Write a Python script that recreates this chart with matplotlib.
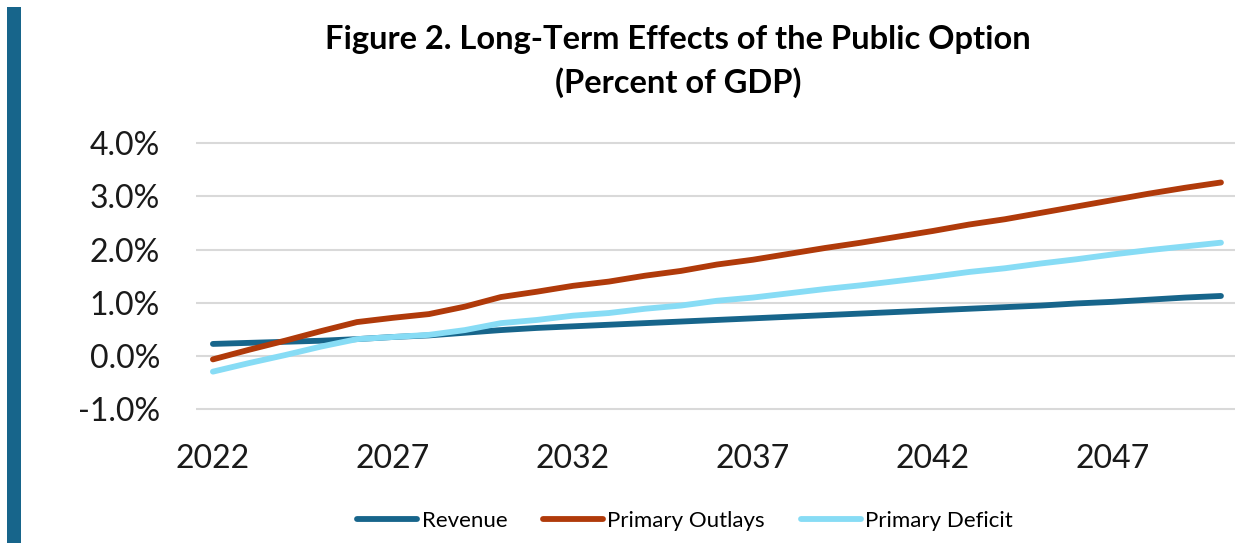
import numpy as np
import matplotlib.pyplot as plt
from matplotlib.patches import Rectangle

# Percent of GDP, 2022-2050
years = list(range(2022, 2051))
revenue = [0.23, 0.25, 0.27, 0.29, 0.32, 0.36, 0.39, 0.44, 0.49, 0.53,
           0.56, 0.59, 0.62, 0.65, 0.68, 0.71, 0.74, 0.77, 0.80, 0.83,
           0.86, 0.89, 0.92, 0.95, 0.99, 1.02, 1.06, 1.10, 1.13]
outlays = [-0.06, 0.12, 0.29, 0.47, 0.64, 0.72, 0.79, 0.93, 1.11, 1.21,
           1.32, 1.40, 1.51, 1.60, 1.72, 1.81, 1.92, 2.03, 2.13, 2.24,
           2.35, 2.47, 2.57, 2.69, 2.81, 2.93, 3.05, 3.16, 3.26]
deficit = [-0.29, -0.13, 0.02, 0.18, 0.32, 0.36, 0.40, 0.49, 0.62, 0.68,
           0.76, 0.81, 0.89, 0.95, 1.04, 1.10, 1.18, 1.26, 1.33, 1.41,
           1.49, 1.58, 1.65, 1.74, 1.82, 1.91, 1.99, 2.06, 2.13]
xticks = [2022, 2027, 2032, 2037, 2042, 2047]
yticks = [-1, 0, 1, 2, 3, 4]

plt.rcParams['font.family'] = ['Lato', 'DejaVu Sans']

W, H = 1235, 543
fig = plt.figure(figsize=(W / 100, H / 100), dpi=100)

# side accent bar
fig.patches.append(Rectangle((7 / W, 0), 14 / W, 1 - 7 / H, transform=fig.transFigure,
                             facecolor='#17658b', edgecolor='none'))

ax = fig.add_axes([196 / W, 1 - 414.8 / H, (1235 - 196) / W, (414.8 - 137.7) / H])

ax.plot(years, revenue, color='#17658b', lw=4.2, solid_capstyle='round', label='Revenue')
ax.plot(years, outlays, color='#b03a0a', lw=4.2, solid_capstyle='round', label='Primary Outlays')
ax.plot(years, deficit, color='#87dcf5', lw=4.2, solid_capstyle='round', label='Primary Deficit')

ax.set_xlim(2021.53, 2050.39)
ax.set_ylim(-1.1, 4.1)
ax.set_yticks(yticks)
ax.set_yticklabels([f'{v:.1f}%' for v in yticks])
ax.set_xticks(xticks)
ax.grid(axis='y', color='#d9d9d9', lw=1.5)
ax.set_axisbelow(True)
for s in ax.spines.values():
    s.set_visible(False)
ax.tick_params(axis='y', length=0, pad=26, labelsize=23, labelcolor='#1a1a1a')
ax.tick_params(axis='x', length=0, pad=21, labelsize=23, labelcolor='#1a1a1a')

fig.text(678 / W, 1 - 40 / H, 'Figure 2. Long-Term Effects of the Public Option',
         ha='center', va='center', fontsize=23.5, fontweight='bold')
fig.text(678 / W, 1 - 83 / H, '(Percent of GDP)',
         ha='center', va='center', fontsize=23.5, fontweight='bold')

fig.legend(loc='center', bbox_to_anchor=(685 / W, 1 - 521 / H), ncol=3, frameon=False,
           fontsize=16, handlelength=2.7, handletextpad=0.2, columnspacing=1.6)

fig.savefig('out.png', dpi=100, facecolor='white')
